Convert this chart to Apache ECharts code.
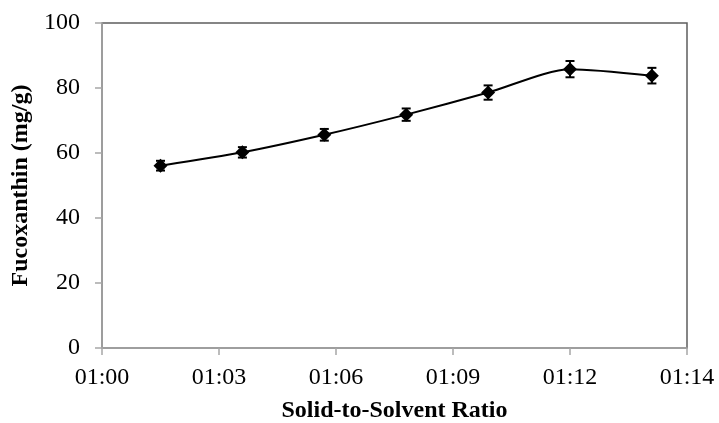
<!DOCTYPE html>
<html>
<head>
<meta charset="utf-8">
<script src="https://cdn.jsdelivr.net/npm/echarts@6/dist/echarts.min.js"></script>
<style>
  html, body { margin: 0; padding: 0; background: #fff; }
  #chart { width: 719px; height: 423px; }
</style>
</head>
<body>
<div id="chart"></div>
<script>
// Tick labels along the ratio axis (one per major tick, evenly spaced)
const xTickLabels = ['01:00', '01:03', '01:06', '01:09', '01:12', '01:14'];
// Sample positions on the ratio axis, in major-tick units
const xPositions = [0.5, 1.2, 1.9, 2.6, 3.3, 4.0, 4.7];
// Fucoxanthin yield (mg/g) and its standard deviation
const yieldValues = [56.1, 60.2, 65.6, 71.8, 78.6, 85.8, 83.8];
const yieldErrors = [1.5, 1.6, 1.8, 1.9, 2.2, 2.5, 2.4];

const lineData = xPositions.map((x, i) => [x, yieldValues[i]]);
const errorData = xPositions.map((x, i) => [x, yieldValues[i] - yieldErrors[i], yieldValues[i] + yieldErrors[i]]);

const FONT = '"Liberation Serif", "Times New Roman", serif';

const chart = echarts.init(document.getElementById('chart'), null, { renderer: 'canvas' });
chart.setOption({
  animation: false,
  backgroundColor: '#ffffff',
  grid: {
    left: 102, right: 32, top: 23, bottom: 75,
    outerBoundsMode: 'none',
    containLabel: false,
    show: true, borderColor: '#5e5e5e', borderWidth: 1.5, backgroundColor: 'transparent'
  },
  xAxis: {
    type: 'value',
    min: 0, max: 5, interval: 1,
    name: 'Solid-to-Solvent Ratio',
    nameLocation: 'middle',
    nameGap: 51,
    nameTextStyle: { fontFamily: FONT, fontSize: 24, fontWeight: 'bold', color: '#000' },
    axisLine: { lineStyle: { color: '#a6a6a6', width: 1.5 } },
    axisTick: { show: true, length: 7, lineStyle: { color: '#a6a6a6', width: 1.5 } },
    axisLabel: {
      formatter: v => xTickLabels[Math.round(v)] || '',
      fontFamily: FONT, fontSize: 24, color: '#000', margin: 18
    },
    splitLine: { show: false }
  },
  yAxis: {
    type: 'value',
    min: 0, max: 100, interval: 20,
    name: 'Fucoxanthin (mg/g)',
    nameLocation: 'middle',
    nameGap: 67,
    nameTextStyle: { fontFamily: FONT, fontSize: 24, fontWeight: 'bold', color: '#000' },
    axisLine: { show: true, lineStyle: { color: '#a6a6a6', width: 1.5 } },
    axisTick: { show: true, length: 7, lineStyle: { color: '#a6a6a6', width: 1.5 } },
    axisLabel: { fontFamily: FONT, fontSize: 24, color: '#000', margin: 22 },
    splitLine: { show: false }
  },
  series: [
    {
      type: 'line',
      data: lineData,
      smooth: 0.25,
      symbol: 'diamond',
      symbolSize: 14,
      itemStyle: { color: '#000' },
      lineStyle: { color: '#000', width: 2 },
      z: 3
    },
    {
      type: 'custom',
      data: errorData,
      z: 4,
      renderItem: function (params, api) {
        const x = api.value(0);
        const lo = api.coord([x, api.value(1)]);
        const hi = api.coord([x, api.value(2)]);
        const half = 4.5;
        const style = { stroke: '#000', lineWidth: 2 };
        return {
          type: 'group',
          children: [
            { type: 'line', shape: { x1: lo[0], y1: lo[1], x2: hi[0], y2: hi[1] }, style },
            { type: 'line', shape: { x1: hi[0] - half, y1: hi[1], x2: hi[0] + half, y2: hi[1] }, style },
            { type: 'line', shape: { x1: lo[0] - half, y1: lo[1], x2: lo[0] + half, y2: lo[1] }, style }
          ]
        };
      }
    }
  ]
});
</script>
</body>
</html>
